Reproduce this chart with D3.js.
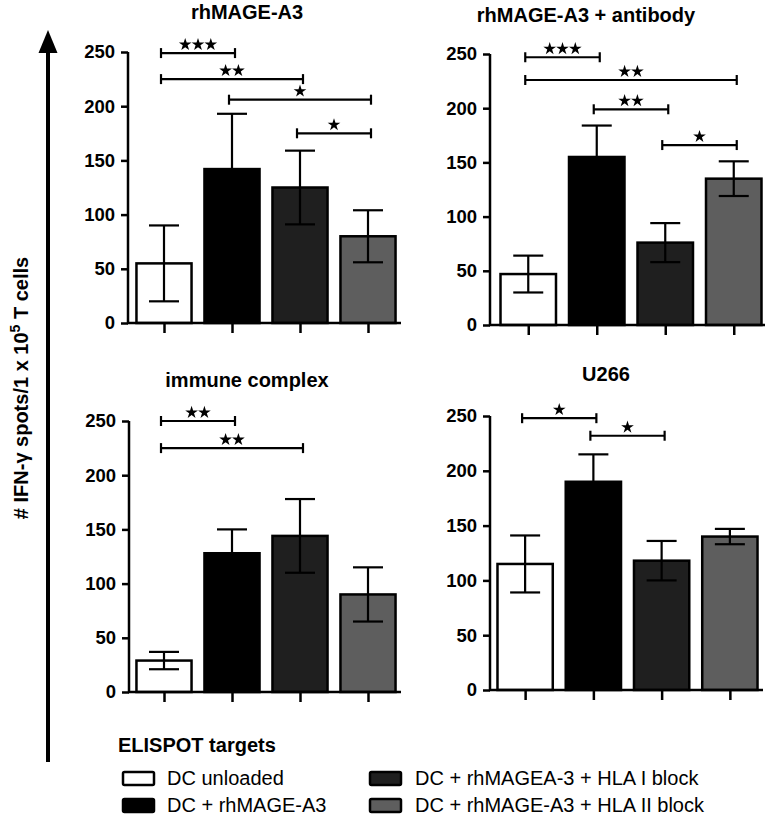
<!DOCTYPE html>
<html><head><meta charset="utf-8">
<script src="https://cdn.jsdelivr.net/npm/d3@7"></script>
<style>body{margin:0;background:#fff}svg{display:block}text{font-family:"Liberation Sans",Arial,sans-serif}</style>
</head><body><svg id="c" width="767" height="816"></svg>
<script>
// ---- data ----
const categories = ["DC unloaded", "DC + rhMAGE-A3", "DC + rhMAGEA-3 + HLA I block", "DC + rhMAGE-A3 + HLA II block"];
const panelTitles = ["rhMAGE-A3", "rhMAGE-A3 + antibody", "immune complex", "U266"];
const yTicks = [0, 50, 100, 150, 200, 250];
const meansA = [55, 142, 125, 80];
const errA = [35, 51, 34, 24];
const meansB = [47, 155, 76, 135];
const errB = [17, 29, 18, 16];
const meansC = [29, 128, 144, 90];
const errC = [8, 22, 34, 25];
const meansD = [115, 190, 118, 140];
const errD = [26, 25, 18, 7];
// significance brackets: [from index, to index, level value, number of stars]
const sigA = [[0, 1, 249, 3], [0, 2, 225, 2], [1, 3, 206, 1], [2, 3, 175, 1]];
const sigB = [[0, 1, 247, 3], [0, 3, 226, 2], [1, 2, 199, 2], [2, 3, 166, 1]];
const sigC = [[0, 1, 250, 2], [0, 2, 225, 2]];
const sigD = [[0, 1, 248, 1], [1, 2, 232, 1]];
const yLabel = "# IFN-\u03b3 spots/1 x 10";
const legendTitle = "ELISPOT targets";

// ---- styles / layout ----
const fills = ["#ffffff", "#000000", "#1f1f1f", "#5e5e5e"];
const layouts = [
  {ax: 128, y0: 323, yTop: 52, r0: 130, r1: 402, axEnd: 401, tx: 247, ty: 19},
  {ax: 490, y0: 325, yTop: 54, r0: 494, r1: 768, axEnd: 765, tx: 586, ty: 22},
  {ax: 129, y0: 692, yTop: 421, r0: 130, r1: 402, axEnd: 401, tx: 247, ty: 387},
  {ax: 490, y0: 690, yTop: 416, r0: 491, r1: 764, axEnd: 763, tx: 606, ty: 381}
];
const panels = [
  {means: meansA, errs: errA, sig: sigA},
  {means: meansB, errs: errB, sig: sigB},
  {means: meansC, errs: errC, sig: sigC},
  {means: meansD, errs: errD, sig: sigD}
];

const svg = d3.select("#c");
const star = d3.symbol().type(d3.symbolStar).size(50);

panels.forEach((p, k) => {
  const L = layouts[k];
  const g = svg.append("g");
  const x = d3.scalePoint().domain(d3.range(categories.length)).range([L.r0, L.r1]).padding(0.5);
  const y = d3.scaleLinear().domain([0, 250]).range([L.y0, L.yTop]);
  const bw = x.step() * 0.81;

  // title
  g.append("text").attr("x", L.tx).attr("y", L.ty).attr("text-anchor", "middle")
    .attr("font-size", 20).attr("font-weight", "bold").text(panelTitles[k]);

  // bars
  g.selectAll("rect.bar").data(p.means).join("rect").attr("class", "bar")
    .attr("x", (d, i) => x(i) - bw / 2).attr("y", d => y(d))
    .attr("width", bw).attr("height", d => y(0) - y(d))
    .attr("fill", (d, i) => fills[i]).attr("stroke", "#000").attr("stroke-width", 2.5);

  // error bars
  const eb = g.selectAll("g.eb").data(p.means).join("g").attr("class", "eb")
    .attr("stroke", "#000").attr("stroke-width", 2.2);
  eb.append("line").attr("x1", (d, i) => x(i)).attr("x2", (d, i) => x(i))
    .attr("y1", (d, i) => y(d - p.errs[i])).attr("y2", (d, i) => y(d + p.errs[i]));
  eb.append("line").attr("x1", (d, i) => x(i) - 15).attr("x2", (d, i) => x(i) + 15)
    .attr("y1", (d, i) => y(d + p.errs[i])).attr("y2", (d, i) => y(d + p.errs[i]));
  eb.append("line").attr("x1", (d, i) => x(i) - 15).attr("x2", (d, i) => x(i) + 15)
    .attr("y1", (d, i) => y(d - p.errs[i])).attr("y2", (d, i) => y(d - p.errs[i]));

  // axes
  const ya = g.append("g").attr("transform", `translate(${L.ax},0)`)
    .call(d3.axisLeft(y).tickValues(yTicks).tickSize(7).tickPadding(6).tickSizeOuter(0));
  ya.select(".domain").attr("d", `M0,${y(0) + 1}V${y(250)}`);
  const xa = g.append("g").attr("transform", `translate(0,${y(0)})`)
    .call(d3.axisBottom(x).tickSize(10).tickSizeOuter(0).tickFormat(""));
  xa.select(".domain").attr("d", `M${L.ax - 1},0H${L.axEnd}`);
  [ya, xa].forEach(a => {
    a.selectAll(".domain, line").attr("stroke", "#000").attr("stroke-width", 2.5);
    a.selectAll("text").attr("font-size", 18.5).attr("font-weight", "bold")
      .attr("fill", "#000").attr("font-family", '"Liberation Sans", Arial, sans-serif');
  });

  // significance brackets
  p.sig.forEach(([a, b, v, n]) => {
    const xa1 = x(a) - 3, xb1 = x(b) + 3, yy = y(v);
    const sg = g.append("g").attr("stroke", "#000").attr("stroke-width", 2.2);
    sg.append("line").attr("x1", xa1).attr("x2", xb1).attr("y1", yy).attr("y2", yy);
    sg.append("line").attr("x1", xa1).attr("x2", xa1).attr("y1", yy - 5).attr("y2", yy + 5);
    sg.append("line").attr("x1", xb1).attr("x2", xb1).attr("y1", yy - 5).attr("y2", yy + 5);
    const mid = (xa1 + xb1) / 2;
    d3.range(n).forEach(s => {
      g.append("path").attr("d", star)
        .attr("transform", `translate(${mid + (s - (n - 1) / 2) * 12.8},${yy - 8.5})`)
        .attr("fill", "#000");
    });
  });
});

// y-axis arrow and label
svg.append("line").attr("x1", 48).attr("x2", 48).attr("y1", 762).attr("y2", 48)
  .attr("stroke", "#000").attr("stroke-width", 4);
svg.append("path").attr("d", "M48,30L57.5,53L38.5,53Z").attr("fill", "#000");
const yl = svg.append("text").attr("transform", "translate(28,388) rotate(-90)")
  .attr("text-anchor", "middle").attr("font-size", 20).attr("font-weight", "bold");
yl.append("tspan").text(yLabel);
yl.append("tspan").attr("dy", -8).attr("font-size", 14).text("5");
yl.append("tspan").attr("dy", 8).text(" T cells");

// legend
svg.append("text").attr("x", 118).attr("y", 752).attr("font-size", 20).attr("font-weight", "bold").text(legendTitle);
const legPos = [[123, 772, 167, 785], [123, 799, 167, 812], [370, 772, 415, 785], [370, 799, 415, 812]];
categories.forEach((c, i) => {
  const [sx, sy, tx, ty] = legPos[i];
  svg.append("rect").attr("x", sx).attr("y", sy).attr("width", 31).attr("height", 13)
    .attr("fill", fills[i]).attr("stroke", "#000").attr("stroke-width", 2.5).attr("rx", 1.5);
  svg.append("text").attr("x", tx).attr("y", ty).attr("font-size", 20).text(c);
});
</script></body></html>
